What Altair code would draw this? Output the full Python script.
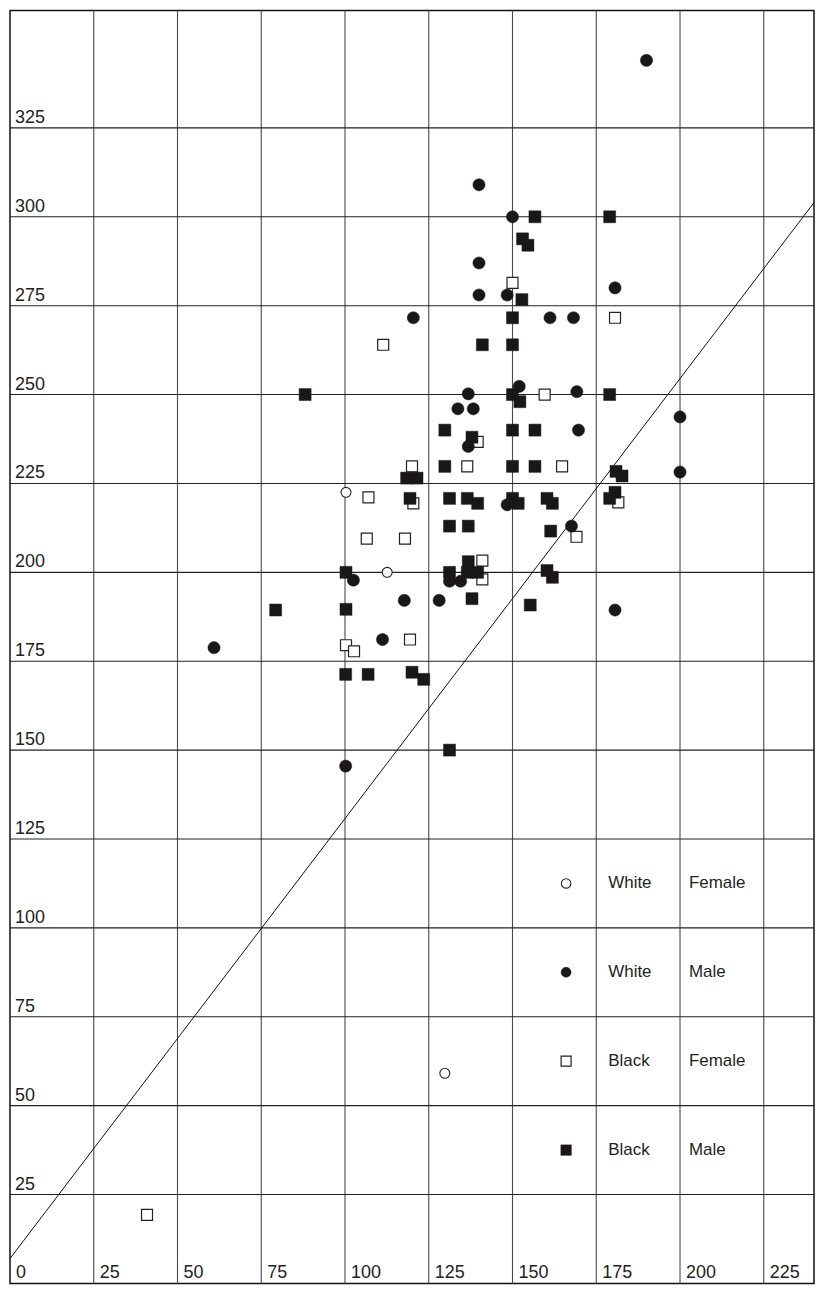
import altair as alt
import pandas as pd

# ---- grid / tick labels ----
x_ticks = [0, 25, 50, 75, 100, 125, 150, 175, 200, 225]
y_ticks = [25, 50, 75, 100, 125, 150, 175, 200, 225, 250, 275, 300, 325]
X_MAX = 240
Y_MAX = 358

# ---- data ----
wf_x = [100.3, 112.6, 129.8]
wf_y = [222.5, 200.0, 59.1]

wm_x = [190.0, 140.0, 150.0, 140.0, 140.0, 148.4, 180.6, 120.4, 161.2, 168.2,
        152.0, 136.8, 169.2, 133.7, 138.3, 136.8, 169.7, 200.0, 200.0, 148.4,
        167.6, 131.2, 134.5, 117.7, 128.1, 180.6, 102.5, 111.2, 60.9, 100.2]
wm_y = [344.0, 309.0, 300.0, 287.0, 278.0, 278.0, 280.0, 271.6, 271.6, 271.6,
        252.3, 250.2, 250.8, 246.0, 246.0, 235.4, 240.0, 243.7, 228.2, 219.0,
        213.0, 197.5, 197.5, 192.1, 192.1, 189.4, 197.8, 181.1, 178.8, 145.5]

bf_x = [150.0, 180.6, 111.4, 159.6, 139.6, 120.0, 136.5, 164.8, 120.4, 181.6,
        107.0, 117.9, 106.5, 169.1, 141.0, 141.0, 119.4, 100.3, 102.7, 40.9]
bf_y = [281.4, 271.6, 264.0, 250.0, 236.7, 229.8, 229.8, 229.8, 219.4, 219.7,
        221.1, 209.5, 209.5, 210.0, 203.3, 198.0, 181.1, 179.5, 177.8, 19.3]

bm_x = [156.7, 179.0, 153.0, 154.6, 152.8, 150.0, 141.0, 150.0, 150.0, 179.0,
        152.2, 88.1, 129.8, 137.9, 150.0, 156.7, 118.4, 121.5, 129.8, 150.0,
        156.7, 180.9, 182.7, 119.4, 131.2, 136.5, 139.6, 150.0, 151.7, 160.3,
        161.9, 180.6, 179.0, 131.2, 136.8, 161.4, 136.8, 131.2, 136.5, 139.6,
        160.3, 161.9, 137.9, 155.3, 100.3, 100.3, 79.3, 120.0, 123.5, 131.2,
        100.2, 106.9]
bm_y = [300.0, 300.0, 293.8, 292.0, 276.7, 271.6, 264.0, 264.0, 250.0, 250.0,
        248.0, 250.0, 240.0, 238.0, 240.0, 240.0, 226.5, 226.5, 229.8, 229.8,
        229.8, 228.4, 227.1, 220.8, 220.8, 220.8, 219.4, 220.8, 219.4, 220.8,
        219.4, 222.5, 220.8, 213.0, 213.0, 211.6, 203.0, 200.0, 200.0, 200.0,
        200.5, 198.6, 192.6, 190.8, 200.0, 189.6, 189.4, 171.9, 169.9, 150.0,
        171.3, 171.3]

# reference line end points
line_x = [0, 240]
line_y = [7, 304]

# legend entries
leg_race = ["White", "White", "Black", "Black"]
leg_sex = ["Female", "Male", "Female", "Male"]
leg_style = ["wf", "wm", "bf", "bm"]

FONT = "Liberation Sans"
INK = "#231f20"
DARK = "#1a1718"

xs = alt.Scale(domain=[0, X_MAX], nice=False, zero=False)
ys = alt.Scale(domain=[0, Y_MAX], nice=False, zero=False)


def X(f):
    return alt.X(f, type="quantitative", scale=xs, axis=None)


def Y(f):
    return alt.Y(f, type="quantitative", scale=ys, axis=None)


vgrid = alt.Chart(pd.DataFrame({"v": x_ticks[1:]})).mark_rule(
    color="#4a4a4a", strokeWidth=1.1).encode(x=X("v"))
hgrid = alt.Chart(pd.DataFrame({"v": y_ticks})).mark_rule(
    color="#222", strokeWidth=1.1).encode(y=Y("v"))

xlab_df = pd.DataFrame({"v": x_ticks, "z": [0] * len(x_ticks),
                        "t": [str(v) for v in x_ticks]})
xlab = alt.Chart(xlab_df).mark_text(
    align="left", baseline="alphabetic", dx=6, dy=-5, fontSize=18,
    font=FONT, color=INK).encode(x=X("v"), y=Y("z"), text="t:N")
ylab = alt.Chart(pd.DataFrame({"v": y_ticks, "z": [0] * len(y_ticks),
                               "t": [str(v) for v in y_ticks]})).mark_text(
    align="left", baseline="alphabetic", dx=5, dy=-5, fontSize=18,
    font=FONT, color=INK).encode(x=X("z"), y=Y("v"), text="t:N")

diag = alt.Chart(pd.DataFrame({"x": line_x, "y": line_y})).mark_line(
    color="#111", strokeWidth=1).encode(x=X("x"), y=Y("y"))

STYLES = {
    "wf": dict(shape="circle", filled=True, fill="white", stroke="#222", strokeWidth=1.1, size=100),
    "wm": dict(shape="circle", filled=True, fill=DARK, stroke=DARK, strokeWidth=0.5, size=150),
    "bf": dict(shape="square", filled=True, fill="white", stroke="#222", strokeWidth=1.2, size=121),
    "bm": dict(shape="square", filled=True, fill=DARK, stroke=DARK, strokeWidth=0.5, size=144),
}


def pts(xv, yv, style, size=None):
    st = dict(STYLES[style])
    if size is not None:
        st["size"] = size
    return alt.Chart(pd.DataFrame({"x": xv, "y": yv})).mark_point(
        opacity=1, fillOpacity=1, strokeOpacity=1, **st).encode(
        x=X("x"), y=Y("y"))


layers = [vgrid, hgrid, diag, xlab, ylab,
          pts(bf_x, bf_y, "bf"), pts(wf_x, wf_y, "wf"),
          pts(bm_x, bm_y, "bm"), pts(wm_x, wm_y, "wm")]

# legend drawn inside the grid cells (rows centred in the cells 100-125 ... 25-50)
row_centres = [y_ticks[i] + 12.5 for i in (3, 2, 1, 0)]
for race, sex, style, yc in zip(leg_race, leg_sex, leg_style, row_centres):
    layers.append(pts([166], [yc], style,
                      size={"wf": 90, "wm": 100, "bf": 100, "bm": 110}[style]))
leg_df = pd.DataFrame({"race": leg_race, "sex": leg_sex, "y": row_centres,
                       "xr": [175] * 4, "xs": [200] * 4})
layers.append(alt.Chart(leg_df).mark_text(
    align="left", baseline="middle", dx=12, fontSize=17, font=FONT, color=INK
).encode(x=X("xr"), y=Y("y"), text="race:N"))
layers.append(alt.Chart(leg_df).mark_text(
    align="left", baseline="middle", dx=9, fontSize=17, font=FONT, color=INK
).encode(x=X("xs"), y=Y("y"), text="sex:N"))

chart = alt.layer(*layers).properties(
    width=806, height=1276, padding=0
).configure_view(stroke="#111", strokeWidth=1.5)

chart.save("out.html", embed_options={"renderer": "svg", "actions": False})
